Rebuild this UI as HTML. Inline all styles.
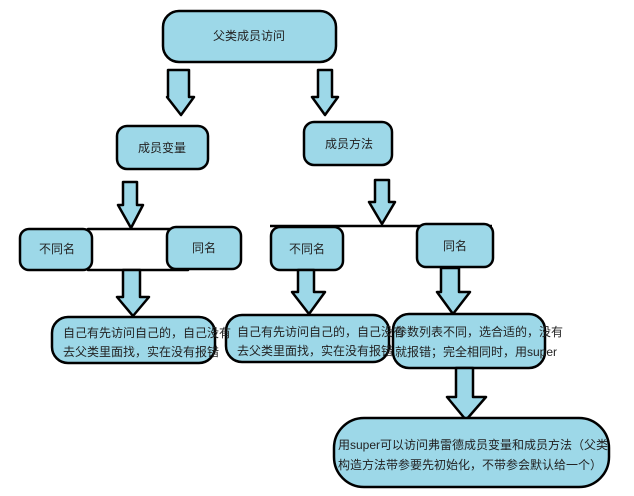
<!DOCTYPE html>
<html><head><meta charset="utf-8"><style>
html,body{margin:0;padding:0;background:#fff;}
svg{display:block}
text{font-family:"Liberation Sans","Noto Sans CJK SC",sans-serif;font-size:12px;fill:#222}
</style></head><body>
<svg width="634" height="496" viewBox="0 0 634 496" xmlns="http://www.w3.org/2000/svg">
<g fill="#9dd8e8" stroke="#000" stroke-width="2.5" stroke-linejoin="round">
<rect x="163" y="11" width="173" height="51" rx="16"/>
<rect x="117" y="126" width="91" height="43" rx="10"/>
<rect x="304" y="122" width="88" height="43" rx="10"/>
<!-- arrows -->
<path d="M168 70 H189 V97 H194 L181 115 L167 97 H168 Z"/>
<path d="M318 70 H332 V97 H338 L325 115 L312 97 H318 Z"/>
<path d="M123 182 H137 V205 H143 L131 228 L118 205 H123 Z"/>
<path d="M375 180 H389 V202 H395 L382 224 L369 202 H375 Z"/>
<rect x="88" y="229" width="100" height="41" fill="#fff"/>
<rect x="20" y="229" width="72" height="41" rx="9"/>
<rect x="167" y="227" width="74" height="42" rx="9"/>
<path d="M123 270 H140 V297 H149 L133 316 L117 297 H123 Z"/>
<rect x="52" y="317" width="163" height="46" rx="16"/>
<line x1="270" y1="226" x2="492" y2="226"/>
<rect x="271" y="227" width="72" height="43" rx="9"/>
<rect x="417" y="224" width="76" height="43" rx="9"/>
<path d="M298 270 H314 V292 H325 L309 314 L292 292 H298 Z"/>
<path d="M441 268 H459 V292 H470 L453 314 L437 292 H441 Z"/>
<rect x="226" y="315" width="163" height="47" rx="16"/>
<rect x="393" y="314" width="152" height="54" rx="16"/>
<path d="M456 368 H473 V397 H486 L466 420 L447 397 H456 Z"/>
<rect x="334" y="418" width="275" height="69" rx="30"/>
</g>
<g text-anchor="middle">
<text x="249" y="40">父类成员访问</text>
<text x="162" y="152">成员变量</text>
<text x="349" y="148">成员方法</text>
<text x="57" y="253">不同名</text>
<text x="204" y="252">同名</text>
<text x="307" y="253">不同名</text>
<text x="455" y="250">同名</text>
</g>
<text x="63" y="337" font-size="11">自己有先访问自己的，自己没有</text>
<text x="63" y="356" font-size="11">去父类里面找，实在没有报错</text>
<text x="237" y="336" font-size="11">自己有先访问自己的，自己没有</text>
<text x="237" y="355" font-size="11">去父类里面找，实在没有报错</text>
<text x="395" y="336" font-size="11">参数列表不同，选合适的，没有</text>
<text x="395" y="356" font-size="11">就报错；完全相同时，用super</text>
<text x="338" y="449" font-size="12">用super可以访问弗雷德成员变量和成员方法（父类</text>
<text x="338" y="469" font-size="12">构造方法带参要先初始化，不带参会默认给一个）</text>
</svg>
</body></html>
